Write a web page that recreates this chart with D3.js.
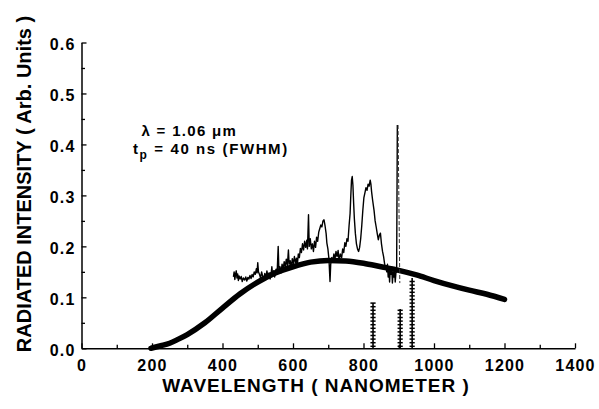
<!DOCTYPE html>
<html>
<head>
<meta charset="utf-8">
<script src="https://cdn.jsdelivr.net/npm/d3@7"></script>
<style>
    body { margin: 0; background: #fff; }
    svg { display: block; }
    text { font-family: "Liberation Sans", Arial, Helvetica, sans-serif; font-weight: bold; fill: #000; }
</style>
</head>
<body>
<div id="chart"></div>
<script>

// blackbody fit (thick curve)
var bbWavelength = [197, 225, 250, 275, 300, 350, 400, 450, 500, 550, 600, 650, 700, 750, 800, 850, 900, 950, 1000, 1050, 1100, 1150, 1200];
var bbIntensity = [0.000, 0.005, 0.010, 0.018, 0.027, 0.050, 0.079, 0.107, 0.130, 0.148, 0.160, 0.169, 0.1725, 0.1715, 0.167, 0.160, 0.153, 0.144, 0.133, 0.123, 0.114, 0.106, 0.096];

// measured spectrum (thin noisy trace)
var specWavelength = [431, 433, 435, 437, 439, 441, 443, 445, 447, 450, 453, 456, 459, 463, 466, 469, 472, 475, 478, 481,
    484, 487, 490, 493, 496, 498, 500, 502, 505, 508, 511, 514, 517, 520, 523, 526, 529, 532, 535, 538,
    540, 542, 545, 548, 552, 555, 558, 560, 563, 566, 569, 572, 575, 578, 581, 584, 587, 589, 592, 595,
    598, 601, 604, 607, 610, 612, 615, 618, 621, 624, 627, 630, 633, 636, 639, 641, 644, 646, 649, 652,
    655, 658, 661, 664, 667, 670, 673, 676, 679, 682, 685, 688, 691, 694, 696, 699, 702, 705, 707, 710,
    713, 716, 719, 722, 725, 728, 731, 734, 738, 741, 744, 747, 750, 753, 756, 759, 762, 764, 766, 768,
    770, 772, 774, 777, 780, 783, 786, 789, 792, 795, 798, 801, 804, 807, 810, 813, 816, 819, 821, 823,
    826, 830, 833, 836, 839, 842, 845, 848, 851, 854, 857, 860, 863, 866, 868, 870, 872, 874, 876, 878,
    880, 882, 884, 886, 888, 890, 892, 894, 896];
var specIntensity = [0.140, 0.150, 0.135, 0.145, 0.152, 0.138, 0.146, 0.133, 0.142, 0.136, 0.141, 0.131, 0.138, 0.134, 0.140, 0.132, 0.139, 0.136, 0.143, 0.137,
    0.145, 0.140, 0.150, 0.145, 0.156, 0.148, 0.168, 0.150, 0.145, 0.138, 0.150, 0.141, 0.134, 0.147, 0.138, 0.152, 0.140, 0.148, 0.136, 0.146,
    0.160, 0.144, 0.152, 0.140, 0.155, 0.148, 0.200, 0.152, 0.160, 0.148, 0.165, 0.155, 0.170, 0.160, 0.175, 0.162, 0.193, 0.165, 0.172, 0.158,
    0.176, 0.165, 0.180, 0.168, 0.177, 0.160, 0.185, 0.178, 0.196, 0.188, 0.205, 0.193, 0.210, 0.198, 0.212, 0.195, 0.262, 0.200, 0.215, 0.195,
    0.205, 0.190, 0.210, 0.198, 0.218, 0.210, 0.228, 0.235, 0.242, 0.238, 0.250, 0.252, 0.240, 0.225, 0.207, 0.195, 0.175, 0.131, 0.165, 0.178,
    0.172, 0.185, 0.175, 0.190, 0.180, 0.192, 0.170, 0.185, 0.178, 0.195, 0.188, 0.207, 0.200, 0.215, 0.210, 0.240, 0.265, 0.300, 0.330, 0.337,
    0.320, 0.285, 0.255, 0.225, 0.205, 0.195, 0.190, 0.198, 0.215, 0.240, 0.270, 0.295, 0.305, 0.315, 0.310, 0.322, 0.318, 0.330, 0.322, 0.307,
    0.290, 0.270, 0.250, 0.238, 0.225, 0.213, 0.222, 0.226, 0.205, 0.190, 0.180, 0.165, 0.160, 0.150, 0.165, 0.140, 0.158, 0.130, 0.155, 0.145,
    0.160, 0.128, 0.150, 0.140, 0.155, 0.130, 0.148, 0.150, 0.438];

// dashed fall of the last spike
var dropWavelength = [898, 903];
var dropIntensity = [0.438, 0.128];

// laser lines at the bottom (stacked markers)
var lineWavelength = [827, 904, 938];
var lineIntensity = [0.089, 0.077, 0.138];

// ticks
var xTickValues = [0, 200, 400, 600, 800, 1000, 1200, 1400];
var xMinorValues = [100, 300, 500, 700, 900, 1100, 1300];
var yTickValues = [0, 0.1, 0.2, 0.3, 0.4, 0.5, 0.6];
var yMinorValues = [0.05, 0.15, 0.25, 0.35, 0.45, 0.55];


SpectrumVis = function(_parentElement) {
    this.parentElement = _parentElement;
    this.initVis();
}

SpectrumVis.prototype.initVis = function() {
    var vis = this;

    vis.margin = {top: 42.5, right: 24, bottom: 60.7, left: 81.5};
    vis.width = 599 - vis.margin.left - vis.margin.right;
    vis.height = 409 - vis.margin.top - vis.margin.bottom;

    vis.root = d3.select("#" + vis.parentElement).append("svg")
        .attr("width", 599)
        .attr("height", 409);

    vis.root.append("rect")
        .attr("width", 599)
        .attr("height", 409)
        .attr("fill", "#fff");

    vis.svg = vis.root.append("g")
        .attr("transform", "translate(" + vis.margin.left + "," + vis.margin.top + ")");

    vis.x = d3.scaleLinear().domain([0, 1400]).range([0, vis.width]);
    vis.y = d3.scaleLinear().domain([0, 0.6]).range([vis.height, 0]);

    vis.updateVis();
}

SpectrumVis.prototype.updateVis = function() {
    var vis = this;

    // minor ticks first, no labels
    vis.svg.append("g")
        .attr("class", "axis minor")
        .attr("transform", "translate(0," + vis.height + ")")
        .call(d3.axisBottom(vis.x).tickValues(xMinorValues).tickSizeInner(-3.5).tickSizeOuter(0).tickFormat(""));

    vis.svg.append("g")
        .attr("class", "axis minor")
        .call(d3.axisLeft(vis.y).tickValues(yMinorValues).tickSizeInner(-3.5).tickSizeOuter(0).tickFormat(""));

    vis.svg.selectAll(".minor .domain").remove();

    vis.xAxis = vis.svg.append("g")
        .attr("class", "axis")
        .attr("transform", "translate(0," + vis.height + ")")
        .call(d3.axisBottom(vis.x).tickValues(xTickValues).tickSizeInner(-5).tickSizeOuter(0)
            .tickPadding(11).tickFormat(d3.format("d")));

    vis.yAxis = vis.svg.append("g")
        .attr("class", "axis")
        .call(d3.axisLeft(vis.y).tickValues(yTickValues).tickSizeInner(-5).tickSizeOuter(0)
            .tickPadding(6).tickFormat(d3.format(".1f")));

    vis.yAxis.selectAll("text").attr("dy", "0.42em");

    vis.svg.selectAll(".axis .domain").attr("stroke", "#000").attr("stroke-width", 1.5);
    vis.svg.selectAll(".axis .tick line").attr("stroke", "#000").attr("stroke-width", 1.3);
    vis.svg.selectAll(".axis text")
        .style("font-size", "16px")
        .style("letter-spacing", "1.2px");

    // thick blackbody curve
    var bb = bbWavelength.map(function(d, i) { return [d, bbIntensity[i]]; });
    var line = d3.line()
        .x(function(d) { return vis.x(d[0]); })
        .y(function(d) { return vis.y(d[1]); });

    vis.svg.append("path")
        .datum(bb)
        .attr("d", line.curve(d3.curveMonotoneX))
        .attr("fill", "none")
        .attr("stroke", "#000")
        .attr("stroke-width", 5.5)
        .attr("stroke-linecap", "round");

    // noisy spectrum
    var spec = specWavelength.map(function(d, i) { return [d, specIntensity[i]]; });
    vis.svg.append("path")
        .datum(spec)
        .attr("d", line.curve(d3.curveLinear))
        .attr("fill", "none")
        .attr("stroke", "#000")
        .attr("stroke-width", 1.4)
        .attr("stroke-linejoin", "round");

    var drop = dropWavelength.map(function(d, i) { return [d, dropIntensity[i]]; });
    vis.svg.append("path")
        .datum(drop)
        .attr("d", line)
        .attr("fill", "none")
        .attr("stroke", "#333")
        .attr("stroke-width", 1)
        .attr("stroke-dasharray", "4,2");

    // stacked markers for the laser lines
    lineWavelength.forEach(function(w, i) {
        var cx = vis.x(w);
        var y0 = vis.y(0), y1 = vis.y(lineIntensity[i]);
        vis.svg.append("line")
            .attr("x1", cx).attr("x2", cx)
            .attr("y1", y0).attr("y2", y1)
            .attr("stroke", "#000")
            .attr("stroke-width", 1.6);
        vis.svg.selectAll(".bar" + i)
            .data(d3.range(y0 - 2, y1, -3.6))
            .enter().append("line")
            .attr("class", "bar" + i)
            .attr("x1", cx - 2.6).attr("x2", cx + 2.6)
            .attr("y1", function(d) { return d; })
            .attr("y2", function(d) { return d; })
            .attr("stroke", "#000")
            .attr("stroke-width", 1.5);
    });

    // annotation
    vis.root.append("text")
        .attr("x", 141.5)
        .attr("y", 136)
        .style("font-size", "15px")
        .style("letter-spacing", "1.3px")
        .text("λ = 1.06 μm");

    var t2 = vis.root.append("text")
        .attr("x", 133)
        .attr("y", 154)
        .style("font-size", "15px")
        .style("letter-spacing", "1.6px");
    t2.append("tspan").text("t");
    t2.append("tspan").attr("dy", 5).style("font-size", "12px").text("p");
    t2.append("tspan").attr("dy", -5).text(" = 40 ns (FWHM)");

    // axis titles
    vis.root.append("text")
        .attr("x", 316)
        .attr("y", 392)
        .attr("text-anchor", "middle")
        .style("font-size", "19px")
        .style("letter-spacing", "1px")
        .text("WAVELENGTH ( NANOMETER )");

    vis.root.append("text")
        .attr("transform", "translate(31,184) rotate(-90)")
        .attr("text-anchor", "middle")
        .style("font-size", "20px")
        .text("RADIATED INTENSITY ( Arb. Units )");
}

new SpectrumVis("chart");

</script>
</body>
</html>
